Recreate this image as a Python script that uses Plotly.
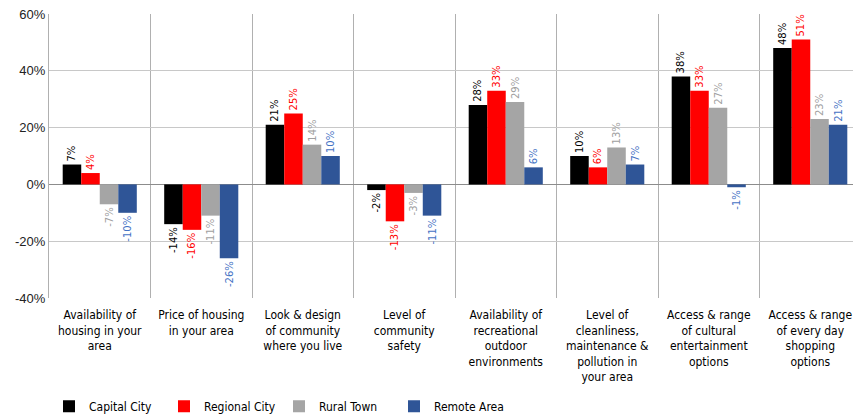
import plotly.graph_objects as go

categories = [
    "Availability of<br>housing in your<br>area",
    "Price of housing<br>in your area",
    "Look & design<br>of community<br>where you live",
    "Level of<br>community<br>safety",
    "Availability of<br>recreational<br>outdoor<br>environments",
    "Level of<br>cleanliness,<br>maintenance &<br>pollution in<br>your area",
    "Access & range<br>of cultural<br>entertainment<br>options",
    "Access & range<br>of every day<br>shopping<br>options",
]

capital_city = [7, -14, 21, -2, 28, 10, 38, 48]
regional_city = [4, -16, 25, -13, 33, 6, 33, 51]
rural_town = [-7, -11, 14, -3, 29, 13, 27, 23]
remote_area = [-10, -26, 10, -11, 6, 7, -1, 21]

series = [
    ("Capital City", capital_city, "#000000", "#000000"),
    ("Regional City", regional_city, "#ff0000", "#ff0000"),
    ("Rural Town", rural_town, "#a5a5a5", "#a0a0a0"),
    ("Remote Area", remote_area, "#2f5597", "#4472c4"),
]

y_tickvals = [-40, -20, 0, 20, 40, 60]
y_ticktext = ["-40%", "-20%", "0%", "20%", "40%", "60%"]

COND = "DejaVu Sans Condensed, DejaVu Sans"

fig = go.Figure()
for name, vals, color, label_color in series:
    fig.add_trace(go.Bar(
        name=name,
        x=categories,
        y=vals,
        marker=dict(color=color, line=dict(width=0)),
        text=[f"{v}%" for v in vals],
        textposition="outside",
        textangle=-90,
        constraintext="none",
        textfont=dict(family="DejaVu Sans", size=10, color=label_color),
        cliponaxis=False,
    ))

# page body has an 8px default margin, so the figure is sized to fit the window
fig.update_layout(
    width=853,
    height=406,
    margin=dict(l=41, r=0, t=6, b=116, autoexpand=False),
    paper_bgcolor="white",
    plot_bgcolor="white",
    barmode="group",
    bargap=0.27,
    bargroupgap=0,
    showlegend=True,
    legend=dict(
        orientation="h",
        x=0.0,
        xanchor="left",
        y=-0.33,
        yanchor="top",
        entrywidth=70,
        entrywidthmode="pixels",
        font=dict(family=COND, size=12, color="#000"),
        itemwidth=30,
        traceorder="normal",
    ),
    xaxis=dict(
        type="category",
        tickson="boundaries",
        showgrid=True,
        gridcolor="#b0b0b0",
        gridwidth=1,
        ticks="",
        showline=False,
        automargin=False,
        tickfont=dict(family=COND, size=12, color="#000"),
        tickangle=0,
        ticklabelstandoff=8,
    ),
    yaxis=dict(
        range=[-40, 60],
        tickvals=y_tickvals,
        ticktext=y_ticktext,
        showgrid=True,
        gridcolor="#c8c8c8",
        gridwidth=1,
        zeroline=True,
        zerolinecolor="#8c8c8c",
        zerolinewidth=1,
        automargin=False,
        ticklabeloverflow="allow",
        tickfont=dict(family="Liberation Sans", size=13, color="#222"),
        ticks="",
        showline=True,
        linecolor="#b0b0b0",
        linewidth=1,
    ),
)

fig.write_html("out.html")
